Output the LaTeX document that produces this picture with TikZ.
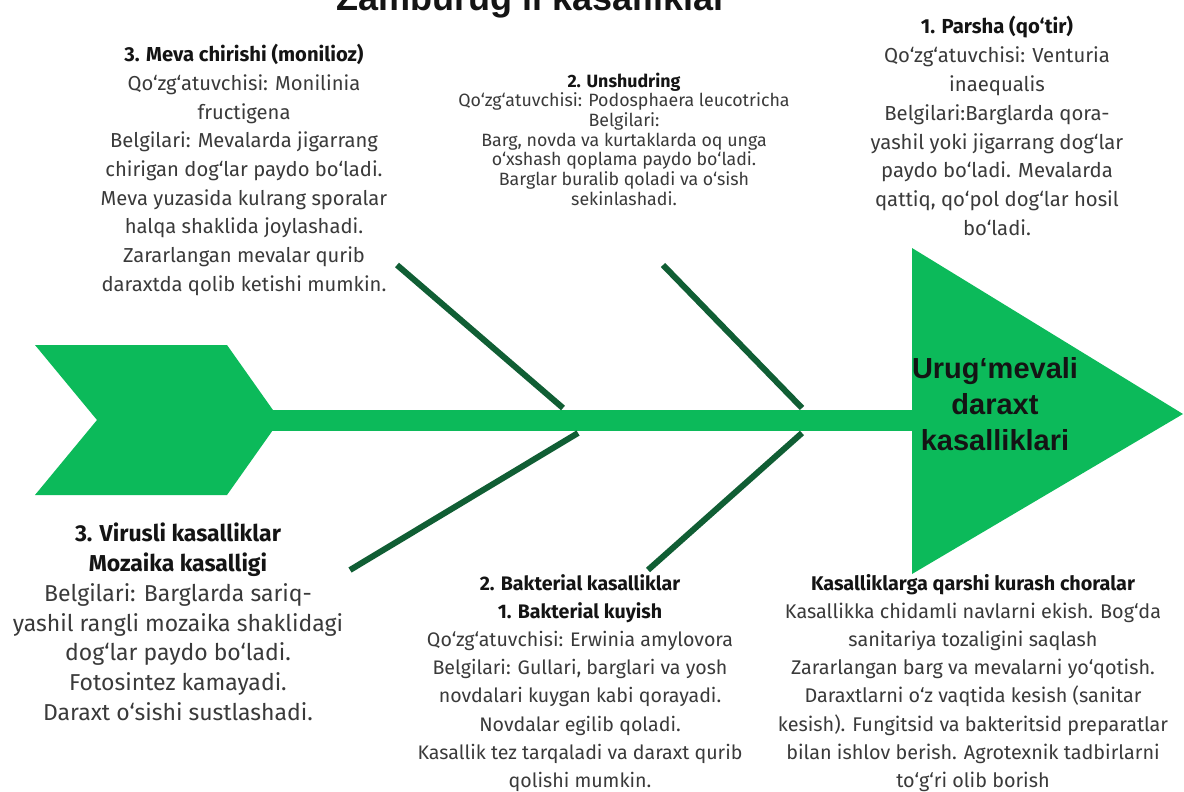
\documentclass[tikz,border=0pt]{standalone}
\usepackage{fontspec}
\setmainfont{Fira Sans}
\newfontfamily\heavy{Liberation Sans}
\definecolor{brightgreen}{RGB}{12,186,90}
\definecolor{bonegreen}{RGB}{16,94,52}
\definecolor{bodygray}{RGB}{58,58,58}
\definecolor{titleblack}{RGB}{20,20,20}
\tikzset{
  txt/.style 2 args={align=center, inner sep=0pt, text=bodygray, font=\fontsize{#1}{#2}\selectfont},
  bone/.style={draw=bonegreen, line width=6pt}
}
\newcommand{\hdr}[1]{{\bfseries\color{titleblack}#1}}
\begin{document}
\begin{tikzpicture}[x=1pt,y=-1pt]
\clip (0,0) rectangle (1184,792);
\fill[white] (0,0) rectangle (1184,792);

% main title (cut at top, as in the reference)
\node[anchor=base, inner sep=0pt, text=titleblack, font=\heavy\bfseries\fontsize{36}{40}\selectfont] (title) at (532,11) {Zamburug‘li kasalliklar};

% chevron tail
\fill[brightgreen] (35,345) -- (227,345) -- (280,420) -- (227,495) -- (35,495) -- (97,420) -- cycle;
% spine
\coordinate (tail) at (270,420);
\coordinate (head) at (913,420);
\draw[brightgreen, line width=21pt] (tail) -- (head);
% head triangle
\fill[brightgreen] (912,248) -- (1183,414) -- (912,574) -- cycle;
\node[align=center, inner sep=0pt, text=titleblack, font=\heavy\bfseries\fontsize{29}{36}\selectfont] (effect) at (995,404) {Urug‘mevali\\daraxt\\kasalliklari};

% bones
\coordinate (b1s) at (397,265); \coordinate (b1e) at (563,408);
\coordinate (b2s) at (663,265); \coordinate (b2e) at (802,408);
\coordinate (b3s) at (350,570); \coordinate (b3e) at (578,433);
\coordinate (b4s) at (648,570); \coordinate (b4e) at (802,433);
\draw[bone] (b1s) -- (b1e);
\draw[bone] (b2s) -- (b2e);
\draw[bone] (b3s) -- (b3e);
\draw[bone] (b4s) -- (b4e);

% text blocks
\node[txt={20.2}{28.7}] (monilioz) at (244,170) {\hdr{3. Meva chirishi (monilioz)}\\
Qo‘zg‘atuvchisi: Monilinia\\
fructigena\\
Belgilari: Mevalarda jigarrang\\
chirigan dog‘lar paydo bo‘ladi.\\
Meva yuzasida kulrang sporalar\\
halqa shaklida joylashadi.\\
Zararlangan mevalar qurib\\
daraxtda qolib ketishi mumkin.};

\node[txt={17.8}{19.7}] (unshudring) at (624,139) {\hdr{2. Unshudring}\\
Qo‘zg‘atuvchisi: Podosphaera leucotricha\\
Belgilari:\\
Barg, novda va kurtaklarda oq unga\\
o‘xshash qoplama paydo bo‘ladi.\\
Barglar buralib qoladi va o‘sish\\
sekinlashadi.};

\node[txt={20.3}{28.9}] (parsha) at (997,126) {\hdr{1. Parsha (qo‘tir)}\\
Qo‘zg‘atuvchisi: Venturia\\
inaequalis\\
Belgilari:Barglarda qora-\\
yashil yoki jigarrang dog‘lar\\
paydo bo‘ladi. Mevalarda\\
qattiq, qo‘pol dog‘lar hosil\\
bo‘ladi.};

\node[txt={23}{29.8}] (virus) at (178,622) {\hdr{3. Virusli kasalliklar}\\
\hdr{Mozaika kasalligi}\\
Belgilari: Barglarda sariq-\\
yashil rangli mozaika shaklidagi\\
dog‘lar paydo bo‘ladi.\\
Fotosintez kamayadi.\\
Daraxt o‘sishi sustlashadi.};

\node[txt={19.6}{28.1}] (bakterial) at (580,683) {\hdr{2. Bakterial kasalliklar}\\
\hdr{1. Bakterial kuyish}\\
Qo‘zg‘atuvchisi: Erwinia amylovora\\
Belgilari: Gullari, barglari va yosh\\
novdalari kuygan kabi qorayadi.\\
Novdalar egilib qoladi.\\
Kasallik tez tarqaladi va daraxt qurib\\
qolishi mumkin.};

\node[txt={19.8}{28.1}] (kurash) at (973,683) {\hdr{Kasalliklarga qarshi kurash choralar}\\
Kasallikka chidamli navlarni ekish. Bog‘da\\
sanitariya tozaligini saqlash\\
Zararlangan barg va mevalarni yo‘qotish.\\
Daraxtlarni o‘z vaqtida kesish (sanitar\\
kesish). Fungitsid va bakteritsid preparatlar\\
bilan ishlov berish. Agrotexnik tadbirlarni\\
to‘g‘ri olib borish};
\end{tikzpicture}
\end{document}
